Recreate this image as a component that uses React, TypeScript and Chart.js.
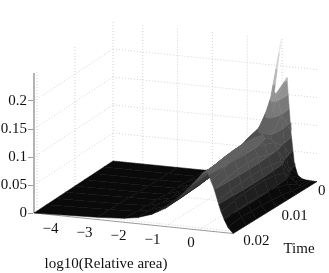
import React, { useEffect, useRef } from "react";
import { Chart, registerables } from "chart.js";

Chart.register(...registerables);

const logArea = [-4.85, -3, -2.2, -1.8, -1.4, -1, -0.7, -0.4, -0.2, -0.07, -0.03, 0.05, 0.1, 0.14, 0.25, 0.35, 0.45, 0.55, 0.65, 0.75, 0.85, 1];
const times = [0, 0.0024, 0.005, 0.0075, 0.01, 0.0125, 0.015, 0.0175, 0.0208];
const zT0 = [0, 0, 0, 0.008, 0.02, 0.04, 0.055, 0.075, 0.1, null, 0.245, null, null, 0.18, 0.086, 0.028, 0.008, 0.003, 0.001, 0.0005, 0, 0];
const zT1 = [0, 0, 0, 0.014, 0.035, 0.056, 0.078, 0.097, 0.125, 0.1495, 0.155, 0.164, 0.162, 0.158, 0.125, 0.07, 0.035, 0.018, 0.008, 0.003, 0.001, 0];
const zT2 = [0, 0, 0.001, 0.011, 0.026, 0.044, 0.06, 0.08, 0.09, 0.096, 0.098, 0.1, 0.099, 0.098, 0.095, 0.088, 0.075, 0.056, 0.035, 0.016, 0.005, 0];
const zT3 = [0, 0.001, 0.002, 0.01, 0.024, 0.04, 0.058, 0.08, 0.094, 0.1, 0.102, 0.105, 0.106, 0.107, 0.104, 0.095, 0.078, 0.06, 0.042, 0.022, 0.008, 0];
const zT4 = [0, 0.001, 0.002, 0.01, 0.022, 0.037, 0.054, 0.077, 0.092, 0.1, 0.102, 0.107, 0.109, 0.11, 0.11, 0.103, 0.085, 0.063, 0.045, 0.026, 0.01, 0];
const zT5 = [0, 0.002, 0.003, 0.009, 0.021, 0.035, 0.051, 0.074, 0.089, 0.098, 0.101, 0.106, 0.108, 0.11, 0.11, 0.103, 0.086, 0.063, 0.045, 0.027, 0.012, 0];
const zT6 = [0, 0.002, 0.004, 0.01, 0.02, 0.034, 0.05, 0.072, 0.086, 0.096, 0.099, 0.104, 0.106, 0.108, 0.109, 0.102, 0.085, 0.062, 0.044, 0.027, 0.013, 0];
const zT7 = [0, 0.003, 0.005, 0.01, 0.019, 0.033, 0.048, 0.069, 0.083, 0.093, 0.096, 0.1, 0.103, 0.105, 0.107, 0.098, 0.082, 0.06, 0.042, 0.027, 0.014, 0];
const zT8 = [0, 0.004, 0.007, 0.011, 0.019, 0.032, 0.047, 0.067, 0.08, 0.089, 0.092, 0.098, 0.101, 0.103, 0.105, 0.09, 0.075, 0.055, 0.036, 0.022, 0.01, 0];
const surface: (number | null)[][] = [zT0, zT1, zT2, zT3, zT4, zT5, zT6, zT7, zT8];

const xTicks = [-4, -3, -2, -1, 0];
const timeTicks = [0, 0.01, 0.02];
const timeLabelShift = [1, 5, 7];
const zTicks = [0, 0.05, 0.1, 0.15, 0.2];
const zTop = 0.25;
const bandColors = ["#0a0a0a", "#1e1e1e", "#3a3a3a", "#505050", "#626262", "#7a7a7a", "#929292", "#b4b4b4", "#d0d0d0", "#e8e8e8"];

const X0 = logArea[0];
const X1 = logArea[logArea.length - 1];
const T1 = times[times.length - 1];
const Z_PX = 560;

// oblique view of the box: plot coordinates to the (screen x, height) used by the two scales
function view(x: number, t: number, z: number) {
  const u = (x - X0) / (X1 - X0);
  const v = (T1 - t) / T1;
  const sx = 34 + 199 * u + 79 * v + 5 * u * v;
  const sy = 20.5 * u - 52 * v;
  return { x: sx, y: z - sy / Z_PX };
}

type V = { x: number; t: number; z: number };

function clipBand(poly: V[], lo: number, hi: number): V[] {
  const clip = (pts: V[], keep: (z: number) => boolean, lim: number) => {
    const out: V[] = [];
    for (let i = 0; i < pts.length; i++) {
      const a = pts[i];
      const b = pts[(i + 1) % pts.length];
      if (keep(a.z)) out.push(a);
      if (keep(a.z) !== keep(b.z)) {
        const f = (lim - a.z) / (b.z - a.z);
        out.push({ x: a.x + (b.x - a.x) * f, t: a.t + (b.t - a.t) * f, z: lim });
      }
    }
    return out;
  };
  return clip(clip(poly, (z) => z >= lo, lo), (z) => z <= hi, hi);
}

function buildSurface() {
  const sets: any[] = [];
  const n = bandColors.length;
  const step = zTop / n;
  for (let r = 0; r < times.length - 1; r++) {
    for (let c = 0; c < logArea.length - 1; c++) {
      const corners = [
        { x: logArea[c], t: times[r], z: surface[r][c] },
        { x: logArea[c + 1], t: times[r], z: surface[r][c + 1] },
        { x: logArea[c + 1], t: times[r + 1], z: surface[r + 1][c + 1] },
        { x: logArea[c], t: times[r + 1], z: surface[r + 1][c] },
      ];
      const quad = corners.filter((p) => p.z !== null) as V[];
      if (quad.length < 3) continue;
      for (let b = 0; b < n; b++) {
        const lo = b === 0 ? -1 : b * step;
        const hi = b === n - 1 ? 1 : (b + 1) * step;
        const piece = clipBand(quad, lo, hi);
        if (piece.length < 3) continue;
        const pts = piece.map((p) => view(p.x, p.t, p.z));
        pts.push(pts[0]);
        sets.push({
          data: pts,
          fill: "shape",
          backgroundColor: bandColors[b],
          borderColor: bandColors[b],
          borderWidth: 0.5,
          pointRadius: 0,
          tension: 0,
        });
      }
    }
  }
  return sets;
}

function gridLine(a: V, b: V) {
  return {
    data: [view(a.x, a.t, a.z), view(b.x, b.t, b.z)],
    borderColor: "#d2d2d2",
    borderWidth: 1,
    borderDash: [1, 2],
    pointRadius: 0,
    fill: false,
  };
}

function axisLine(a: V, b: V, width: number) {
  return {
    data: [view(a.x, a.t, a.z), view(b.x, b.t, b.z)],
    borderColor: "#9a9a9a",
    borderWidth: width,
    pointRadius: 0,
    fill: false,
  };
}

function buildGrid() {
  const sets: any[] = [];
  for (const x of xTicks) {
    sets.push(gridLine({ x, t: 0, z: 0 }, { x, t: 0, z: zTop }));
    sets.push(gridLine({ x, t: 0, z: 0 }, { x, t: T1, z: 0 }));
  }
  for (const t of timeTicks) {
    sets.push(gridLine({ x: X0, t, z: 0 }, { x: X0, t, z: zTop }));
    sets.push(gridLine({ x: X0, t, z: 0 }, { x: X1, t, z: 0 }));
  }
  for (const z of zTicks) {
    sets.push(gridLine({ x: X0, t: T1, z }, { x: X0, t: 0, z }));
    sets.push(gridLine({ x: X0, t: 0, z }, { x: X1, t: 0, z }));
  }
  return sets;
}

const FONT = "15px 'Liberation Serif'";

const labelPlugin = {
  id: "boxLabels",
  afterDraw(chart: any) {
    const ctx = chart.ctx;
    const sx = chart.scales.x;
    const sy = chart.scales.y;
    ctx.save();
    ctx.font = FONT;
    ctx.fillStyle = "#111";
    ctx.textBaseline = "middle";
    ctx.textAlign = "center";
    for (const x of xTicks) {
      const p = view(x, T1, 0);
      const text = x < 0 ? "\u2212" + Math.abs(x) : String(x);
      ctx.fillText(text, sx.getPixelForValue(p.x) + (x < 0 ? -12.5 : -8), sy.getPixelForValue(p.y) + 13.5);
    }
    ctx.textAlign = "left";
    timeTicks.forEach((t, i) => {
      const p = view(X1, t, 0);
      ctx.fillText(String(t), sx.getPixelForValue(p.x) + timeLabelShift[i], sy.getPixelForValue(p.y) + 9.5);
    });
    ctx.textAlign = "center";
    ctx.fillText("Time", 299, 249);
    ctx.fillText("log10(Relative area)", 106, 264);
    ctx.restore();
  },
};

export default function App() {
  const ref = useRef<HTMLCanvasElement>(null);
  useEffect(() => {
    // Chart.js paints the last dataset first, so the nearest mark goes first in this list
    const datasets = [
      ...buildGrid(),
      axisLine({ x: X0, t: T1, z: 0 }, { x: X0, t: T1, z: zTop }, 1.5),
      axisLine({ x: X0, t: T1, z: 0 }, { x: X1, t: T1, z: 0 }, 1),
      axisLine({ x: X1, t: T1, z: 0 }, { x: X1, t: 0, z: 0 }, 1),
      ...buildSurface(),
    ].reverse();
    const chart = new Chart(ref.current as HTMLCanvasElement, {
      type: "line",
      data: { datasets },
      options: {
        responsive: false,
        animation: false,
        parsing: false,
        normalized: false,
        layout: { padding: 0 },
        plugins: { legend: { display: false }, tooltip: { enabled: false }, title: { display: false } },
        scales: {
          x: { type: "linear", display: false, min: 33, max: 329 },
          y: {
            type: "linear",
            min: -60 / Z_PX,
            max: 213 / Z_PX,
            afterBuildTicks(s: any) {
              s.ticks = zTicks.map((value) => ({ value }));
            },
            afterFit(s: any) {
              s.width = 33;
              s.paddingTop = 0;
              s.paddingBottom = 0;
            },
            border: { display: false },
            grid: { drawOnChartArea: false, drawTicks: true, tickLength: 5, color: "#9a9a9a" },
            ticks: {
              padding: 1,
              color: "#111",
              font: { family: "'Liberation Serif'", size: 15 },
              callback: (v: any) => String(v),
            },
          },
        },
      } as any,
      plugins: [labelPlugin],
    } as any);
    return () => chart.destroy();
  }, []);
  return (
    <div style={{ position: "absolute", left: 0, top: 0, width: 329, height: 273, background: "#fff" }}>
      <canvas ref={ref} width={329} height={273} style={{ display: "block" }} />
    </div>
  );
}
